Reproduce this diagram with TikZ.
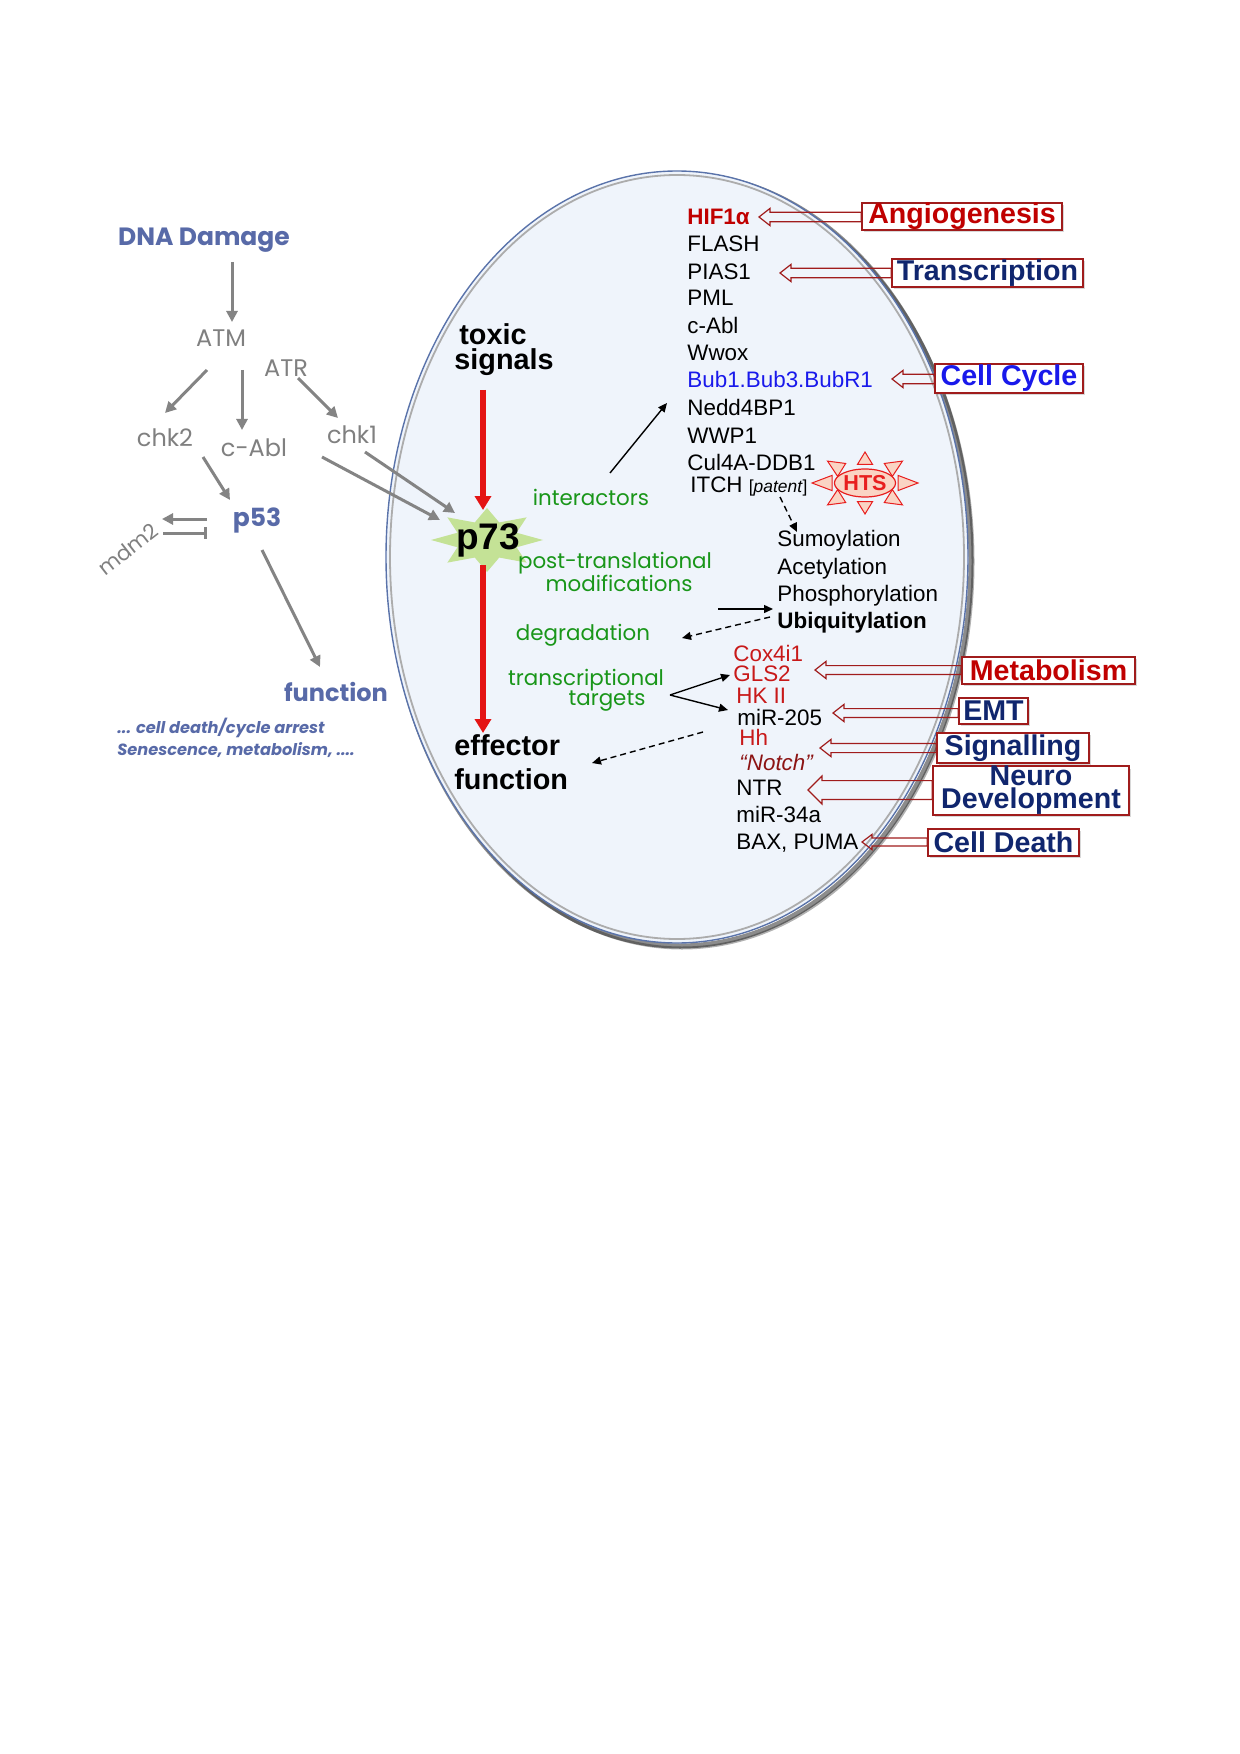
\documentclass[tikz,border=0pt]{standalone}
\usepackage{fontspec}
\setmainfont{Liberation Sans}
\newfontfamily\comic{Poppins}
\usetikzlibrary{arrows.meta,calc,shadows,shapes.geometric}
\definecolor{slate}{RGB}{88,106,168}
\definecolor{ggray}{RGB}{128,128,128}
\definecolor{agray}{RGB}{132,132,132}
\definecolor{lgreen}{RGB}{25,150,25}
\definecolor{dred}{RGB}{192,0,0}
\definecolor{lred}{RGB}{200,25,25}
\definecolor{bred}{RGB}{160,28,28}
\definecolor{navy}{RGB}{16,38,110}
\definecolor{bubblue}{RGB}{25,25,235}
\definecolor{starg}{RGB}{196,226,150}
\definecolor{htsred}{RGB}{232,30,30}
\definecolor{htsfill}{RGB}{250,212,196}
\definecolor{ellfill}{RGB}{239,244,251}
\definecolor{ellblue}{RGB}{90,115,170}
\definecolor{notchred}{RGB}{140,20,20}
\definecolor{arred}{RGB}{228,20,20}
\newcommand\holarrow[5]{%
  \draw[bred, line width=0.6pt, line join=miter] let \p1=(#1), \p2=(#2.west) in
    (\x1,\y1) -- (\x1+#5,\y1+#4) -- (\x1+#5,\y1+#3) -- (\x2,\y1+#3)
    -- (\x2,\y1-#3) -- (\x1+#5,\y1-#3) -- (\x1+#5,\y1-#4) -- cycle;}
\begin{document}
\begin{tikzpicture}[x=0.5pt,y=-0.5pt,
  every node/.style={inner sep=0pt},
  lst/.style={font=\fontsize{11.2}{13}\selectfont, anchor=west, text height=8pt, text depth=0pt},
  gtxt/.style={font=\comic\fontsize{12}{14}\selectfont, text=ggray},
  grn/.style={font=\comic\fontsize{10.7}{12}\selectfont, text=lgreen},
  bigb/.style={font=\bfseries\fontsize{14.4}{14}\selectfont, anchor=base west},
  garr/.style={draw=agray, line width=1.5pt, -{Triangle[length=5.5pt,width=5.5pt]}},
  barr/.style={draw=black, line width=0.7pt, -{Triangle[length=4.5pt,width=4pt]}},
  darr/.style={barr, dash pattern=on 3pt off 2pt},
  rarr/.style={draw=arred, line width=3.3pt, -{Triangle[length=7pt,width=8pt]}},
  lbox/.style={draw=bred, line width=0.7pt, fill=white, font=\bfseries\fontsize{14.3}{13}\selectfont,
    drop shadow={opacity=0.3, shadow xshift=1.2pt, shadow yshift=-1.2pt}},
  ]
\fill[white] (0,0) rectangle (1240,1754);
\useasboundingbox (0,0) rectangle (1240,1754);

% ---------- ellipse ----------
\draw[line width=2.5pt, black, opacity=0.45] (680,560) ellipse [x radius=145.5pt, y radius=193pt];
\draw[line width=1.5pt, black, opacity=0.3] (682,562) ellipse [x radius=145.5pt, y radius=193pt];
\draw[fill=ellfill, draw=ellblue, line width=0.7pt] (677,557) ellipse [x radius=145.5pt, y radius=193pt];
\draw[gray!65, line width=0.9pt] (677,557) ellipse [x radius=143.5pt, y radius=191pt];

% ---------- left pathway ----------
\node[font=\comic\bfseries\fontsize{12.5}{14}\selectfont, text=slate] (dna) at (204,240) {DNA Damage};
\node[gtxt] (atm) at (221,338) {ATM};
\node[gtxt] (atr) at (286,368) {ATR};
\node[gtxt] (chk2) at (165,438) {chk2};
\node[gtxt] (cabl) at (254,448) {c-Abl};
\node[gtxt] (chk1) at (352,435) {chk1};
\node[font=\comic\bfseries\fontsize{12.5}{14}\selectfont, text=slate] (p53) at (257,520) {p53};
\node[gtxt, font=\comic\fontsize{10.5}{12}\selectfont, rotate=38] (mdm2) at (128,549) {mdm2};
\node[font=\comic\bfseries\fontsize{12}{14}\selectfont, text=slate] (func) at (336,692) {function};
\node[font=\comic\bfseries\itshape\fontsize{8.1}{9}\selectfont, text=slate, anchor=west] (fl1) at (117,728) {... cell death/cycle arrest};
\node[font=\comic\bfseries\itshape\fontsize{8.1}{9}\selectfont, text=slate, anchor=west] (fl2) at (117,750) {Senescence, metabolism, ....};

\coordinate (dnaS) at (232,262);  \coordinate (atmN) at (232,322);
\coordinate (atmA) at (207,370);  \coordinate (chk2N) at (165,413);
\coordinate (atmB) at (242,370);  \coordinate (cablN) at (242,430);
\coordinate (atrS) at (298,378);  \coordinate (chk1N) at (338,418);
\coordinate (chk2S) at (203,457); \coordinate (p53N) at (230,500);
\coordinate (p53W1) at (207,519); \coordinate (mdmE1) at (162,519);
\coordinate (mdmE2) at (163,533); \coordinate (p53W2) at (207,533);
\coordinate (cablE) at (322,457); \coordinate (p73A) at (440,520);
\coordinate (chk1S) at (365,452); \coordinate (p73B) at (455,513);
\coordinate (p53S) at (262,550);  \coordinate (funcN) at (320,667);

\draw[garr] (dnaS) -- (atmN);
\draw[garr] (atmA) -- (chk2N);
\draw[garr] (atmB) -- (cablN);
\draw[garr] (atrS) -- (chk1N);
\draw[garr] (chk2S) -- (p53N);
\draw[garr] (p53W1) -- (mdmE1);
\draw[draw=agray, line width=1.5pt, -{Bar[width=6pt]}] (mdmE2) -- (p53W2);
\draw[garr] (p53S) -- (funcN);

% ---------- p73 star ----------
\begin{scope}[shift={(487,540)}]
\fill[starg] (0:28pt and 16pt) \foreach \a in {0,45,...,315}{ -- ({\a+22.5}:16pt and 9.5pt) -- ({\a+45}:28pt and 16pt)} -- cycle;
\end{scope}
\node[font=\bfseries\fontsize{18.5}{20}\selectfont] (p73) at (488,540) {p73};
\draw[garr] (cablE) -- (p73A);
\draw[garr] (chk1S) -- (p73B);

% ---------- central column ----------
\node[bigb] (toxic) at (459,345) {toxic};
\node[bigb] (signals) at (454,370) {signals};
\node[bigb] (effector) at (454,755) {effector};
\node[bigb] (function) at (454,789) {function};
\coordinate (rA1) at (483,390); \coordinate (rA2) at (483,510);
\coordinate (rB1) at (483,565); \coordinate (rB2) at (483,733);
\draw[rarr] (rA1) -- (rA2);
\draw[rarr] (rB1) -- (rB2);

\node[grn] (inter) at (591,497) {interactors};
\node[grn] (ptm1) at (615,563) {post-translational};
\node[grn] (ptm2) at (619,583) {modifications};
\node[grn] (degr) at (583,635) {degradation};
\node[grn] (trans1) at (586,680) {transcriptional};
\node[grn] (trans2) at (607,701) {targets};

% ---------- interactor list ----------
\node[lst, font=\bfseries\fontsize{11.2}{13}\selectfont, text=dred] (hif) at (687,217) {HIF1α};
\node[lst] (flash) at (687,244) {FLASH};
\node[lst] (pias) at (687,272) {PIAS1};
\node[lst] (pml) at (687,298) {PML};
\node[lst] (cabl2) at (687,326) {c-Abl};
\node[lst] (wwox) at (687,353) {Wwox};
\node[lst, text=bubblue] (bub) at (687,380) {Bub1.Bub3.BubR1};
\node[lst] (nedd) at (687,408) {Nedd4BP1};
\node[lst] (wwp) at (687,436) {WWP1};
\node[lst] (cul) at (687,463) {Cul4A-DDB1};
\node[lst] (itch) at (690,484) {ITCH {\fontsize{8.7}{10}\selectfont[\textit{patent}]}};

\node[lst] (sumo) at (777,538) {Sumoylation};
\node[lst] (acet) at (777,566) {Acetylation};
\node[lst] (phos) at (777,593) {Phosphorylation};
\node[lst, font=\bfseries\fontsize{11.2}{13}\selectfont] (ubi) at (777,620) {Ubiquitylation};

\node[lst, text=lred] (cox) at (733,653) {Cox4i1};
\node[lst, text=lred] (gls) at (733,673) {GLS2};
\node[lst, text=lred] (hk) at (736,695) {HK II};
\node[lst] (mir205) at (737,717) {miR-205};
\node[lst, text=lred] (hh) at (739,737) {Hh};
\node[lst, text=notchred, font=\itshape\fontsize{11.2}{13}\selectfont] (notch) at (739,762) {“Notch”};
\node[lst] (ntr) at (736,787) {NTR};
\node[lst] (mir34) at (736,814) {miR-34a};
\node[lst] (bax) at (736,841) {BAX, PUMA};

% ---------- HTS burst ----------
\foreach \a in {0,45,...,315}{
  \coordinate (hb) at ({865+33*cos(\a)},{483-18.5*sin(\a)});
  \coordinate (ht) at ({865+53*cos(\a)},{483-31*sin(\a)});
  \filldraw[fill=htsfill, draw=htsred, line width=0.5pt, line join=miter]
    ($(hb)!3.8pt!90:(ht)$) -- (ht) -- ($(hb)!3.8pt!-90:(ht)$) -- cycle;
}
\node[ellipse, draw=htsred, fill=htsfill, line width=0.6pt, minimum width=25pt, minimum height=14pt,
  text=htsred, font=\bfseries\fontsize{10.8}{12}\selectfont] (hts) at (865,483) {HTS};

% ---------- black arrows ----------
\coordinate (intA) at (610,473); \coordinate (neddA) at (667,403);
\coordinate (itchA) at (780,497); \coordinate (sumoA) at (797,532);
\coordinate (ptmA) at (718,609); \coordinate (ubiA) at (773,609);
\coordinate (ubiB) at (770,617); \coordinate (degA) at (682,638);
\coordinate (trA) at (670,695); \coordinate (glsA) at (730,675); \coordinate (mirA) at (728,710);
\coordinate (effA) at (703,732); \coordinate (effB) at (592,763);
\draw[barr] (intA) -- (neddA);
\draw[darr] (itchA) -- (sumoA);
\draw[barr] (ptmA) -- (ubiA);
\draw[darr] (ubiB) -- (degA);
\draw[barr] (trA) -- (glsA);
\draw[barr] (trA) -- (mirA);
\draw[darr] (effA) -- (effB);

% ---------- function boxes ----------
\node[lbox, text=dred, minimum width=100pt, minimum height=13.5pt] (angio) at (962,216.5) {Angiogenesis};
\node[lbox, text=navy, minimum width=95.5pt, minimum height=14pt] (transc) at (987.5,273) {Transcription};
\node[lbox, text=bubblue, minimum width=74pt, minimum height=14.5pt] (ccyc) at (1009,378.5) {Cell Cycle};
\node[lbox, text=dred, minimum width=86.5pt, minimum height=13.5pt] (metab) at (1048.5,670.5) {Metabolism};
\node[lbox, text=navy, minimum width=34.5pt, minimum height=13pt] (emt) at (993.5,711) {EMT};
\node[lbox, text=navy, minimum width=76pt, minimum height=15pt] (sign) at (1013,748) {Signalling};
\node[lbox, text=navy, minimum width=98pt, minimum height=22.5pt, align=center,
  font=\bfseries\fontsize{14.3}{11.5}\selectfont] (neuro) at (1031,790.5) {Neuro\\Development};
\node[lbox, text=navy, minimum width=75.5pt, minimum height=13.5pt] (cdeath) at (1003.5,842.5) {Cell Death};

\coordinate (tAngio) at (759,217);
\coordinate (tTransc) at (780,273);
\coordinate (tCcyc) at (892,379);
\coordinate (tMetab) at (815,670);
\coordinate (tEmt) at (833,713);
\coordinate (tSign) at (820,748);
\coordinate (tNeuro) at (808,790);
\coordinate (tDeath) at (862,842);
\holarrow{tAngio}{angio}{2.4pt}{4.3pt}{5.5pt}
\holarrow{tTransc}{transc}{2.4pt}{4.3pt}{5.5pt}
\holarrow{tCcyc}{ccyc}{2.4pt}{4.3pt}{5.5pt}
\holarrow{tMetab}{metab}{2.2pt}{4.3pt}{5.5pt}
\holarrow{tEmt}{emt}{2.2pt}{4.3pt}{5.5pt}
\holarrow{tSign}{sign}{2.3pt}{4.3pt}{5.5pt}
\holarrow{tNeuro}{neuro}{4.7pt}{7pt}{7pt}
\holarrow{tDeath}{cdeath}{2pt}{3.8pt}{5pt}
\end{tikzpicture}
\end{document}
